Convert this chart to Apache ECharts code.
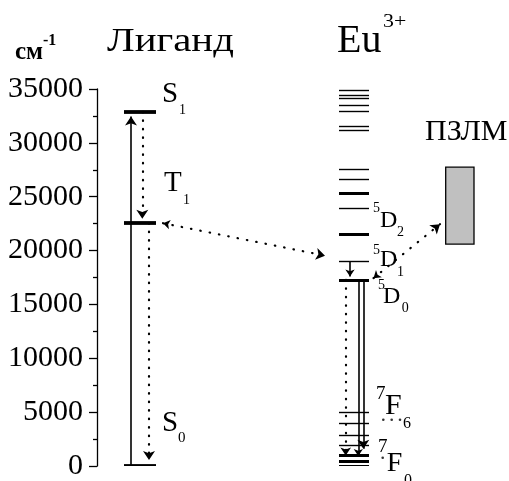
<!DOCTYPE html>
<html><head><meta charset="utf-8">
<script src="https://cdn.jsdelivr.net/npm/echarts@6/dist/echarts.min.js"></script>
<style>html,body{margin:0;padding:0;background:#fff}#c{width:509px;height:481px}</style>
</head><body><div id="c"></div>
<script>
// ---------- data (energies, cm^-1) ----------
const ligandLevelNames = ['S0', 'T1', 'S1'];
const ligandLevelValues = [0, 22540, 32870];
const euLevelValues = [34900, 34420, 34100, 33500, 32970, 31520, 31150, 27590, 26600, 25310, 23900, 21500, 18990, 17280, 5010, 3930, 2860, 1940, 1010, 480, 0];
const euThickLevels = [25310, 21500, 17280, 1010, 480, 0];
const pzlmRange = [20600, 27740];
// transitions: [fromEnergy, toEnergy(arrow tip)]
const ligandAbsorption = [0, 32870];      // S0 -> S1
const ligandISC = [32870, 22540];          // S1 -> T1
const ligandRelax = [22540, 150];          // T1 -> S0
const euD1toD0 = [18990, 17280];
const euEmissionDotted = [17280, 600];
const euEmission1 = [17280, 600];
const euEmission2 = [17280, 1180];
const transferT1 = [22540, 19530];         // T1 <-> 5D1
const transferLMCT = [17440, 22450];       // 5D0 <-> LMCT

// ---------- layout (x in plot units == px) ----------
const LIG = [124, 156], EU = [339, 369], BOX = [445.7, 474];
const PX_PER_UNIT = 379.3 / 35000;
const BLACK = '#000';
const FONT = 'Liberation Serif';

function back(tip, fromV, px) {
  const d = px / PX_PER_UNIT;
  return tip < fromV ? tip + d : tip - d;
}
function vArrow(x, pair, style, size) {
  return {
    coords: [[x, pair[0]], [x, back(pair[1], pair[0], size[1] / 2)]],
    lineStyle: style, symbol: ['none', 'arrow'], symbolSize: size
  };
}
const dotted = { type: [0.5, 8], cap: 'round', width: 2.2, color: BLACK };
const solid = { type: 'solid', width: 1.6, color: BLACK };

const levelData = [];
ligandLevelValues.forEach(v => levelData.push({ coords: [[LIG[0], v], [LIG[1], v]], lineStyle: { width: 3.8, color: BLACK } }));
euLevelValues.forEach(v => levelData.push({ coords: [[EU[0], v], [EU[1], v]], lineStyle: { width: euThickLevels.includes(v) ? 3 : 1.4, color: BLACK } }));

const arrowData = [
  vArrow(131, ligandAbsorption, solid, [7, 9]),
  vArrow(142.3, ligandISC, dotted, [7, 9]),
  vArrow(149, ligandRelax, dotted, [7, 9]),
  vArrow(350, euD1toD0, solid, [6, 7]),
  vArrow(345.7, euEmissionDotted, dotted, [6, 8]),
  vArrow(358.3, euEmission1, solid, [5, 7]),
  vArrow(363.3, euEmission2, solid, [7, 9]),
  { coords: [[163, transferT1[0]], [325, transferT1[1]]], lineStyle: { type: [0.5, 9], cap: 'round', width: 2.2, color: BLACK }, symbol: ['arrow', 'arrow'], symbolSize: [7, 9] },
  { coords: [[373.5, transferLMCT[0]], [440, transferLMCT[1]]], lineStyle: { type: [0.5, 9], cap: 'round', width: 2.2, color: BLACK }, symbol: ['arrow', 'arrow'], symbolSize: [7, 9] }
];

const dotsData = [[383.3, 4300], [391.7, 4300], [400, 4300], [382.7, 770]];

function T(x, base, text, size, bold, sx) {
  return { type: 'text', x: x, y: base - 0.3375 * size, z: 10, scaleX: sx || 1,
    style: { text: text, fontSize: size, fontFamily: FONT, fontWeight: bold ? 'bold' : 'normal', fill: BLACK, align: 'left', verticalAlign: 'middle' } };
}
const texts = [
  T(15, 60.7, 'см', 25, true), T(43, 46, '-1', 16, true),
  T(107, 53.3, 'Лиганд', 34, false, 1.2),
  T(337, 55, 'Eu', 40), T(383, 28.3, '3+', 19, false, 1.15),
  T(425, 142, 'ПЗЛМ', 30),
  T(162, 104, 'S', 29), T(179, 115, '1', 14),
  T(164, 193.3, 'T', 29), T(183, 205, '1', 14),
  T(162, 433.3, 'S', 29), T(178, 443.3, '0', 15),
  T(373, 213, '5', 14), T(380, 229, 'D', 24), T(397, 237.5, '2', 14),
  T(373, 255, '5', 14), T(380, 267.5, 'D', 24), T(397, 277, '1', 14),
  T(378, 290.5, '5', 14), T(383, 305, 'D', 24), T(401.7, 312.7, '0', 14),
  T(376, 400, '7', 19), T(385, 416.7, 'F', 30), T(403, 429.3, '6', 16),
  T(378, 453, '7', 19), T(386.7, 473.3, 'F', 28), T(404, 486, '0', 16)
];

const chart = echarts.init(document.getElementById('c'), null, { renderer: 'canvas' });
chart.setOption({
  animation: false,
  backgroundColor: '#fff',
  grid: { left: 97, right: 0, top: 89, bottom: 12.7, containLabel: false },
  xAxis: { type: 'value', min: 97, max: 509, show: false },
  yAxis: {
    type: 'value', min: 0, max: 35000, interval: 5000,
    axisLine: { show: true, lineStyle: { color: BLACK, width: 1.3 } },
    axisTick: { show: true, length: 8, lineStyle: { color: BLACK, width: 1.3 } },
    minorTick: { show: true, splitNumber: 2, length: 4, lineStyle: { color: BLACK, width: 1.3 } },
    splitLine: { show: false },
    axisLabel: { margin: 14, fontSize: 30, fontFamily: FONT, color: BLACK, formatter: v => String(v) }
  },
  series: [
    { type: 'custom', coordinateSystem: 'cartesian2d', data: [[BOX[0], BOX[1], pzlmRange[0], pzlmRange[1]]],
      renderItem: function (params, api) {
        const p1 = api.coord([api.value(0), api.value(3)]);
        const p2 = api.coord([api.value(1), api.value(2)]);
        return { type: 'rect', shape: { x: p1[0], y: p1[1], width: p2[0] - p1[0], height: p2[1] - p1[1] },
          style: { fill: '#c0c0c0', stroke: BLACK, lineWidth: 1.3 } };
      } },
    { type: 'lines', coordinateSystem: 'cartesian2d', data: levelData, symbol: 'none', lineStyle: { opacity: 1 }, z: 3 },
    { type: 'lines', coordinateSystem: 'cartesian2d', data: arrowData, lineStyle: { opacity: 1 }, z: 4 },
    { type: 'scatter', data: dotsData, symbolSize: 2.6, itemStyle: { color: BLACK }, z: 4 }
  ],
  graphic: texts
});
</script></body></html>
